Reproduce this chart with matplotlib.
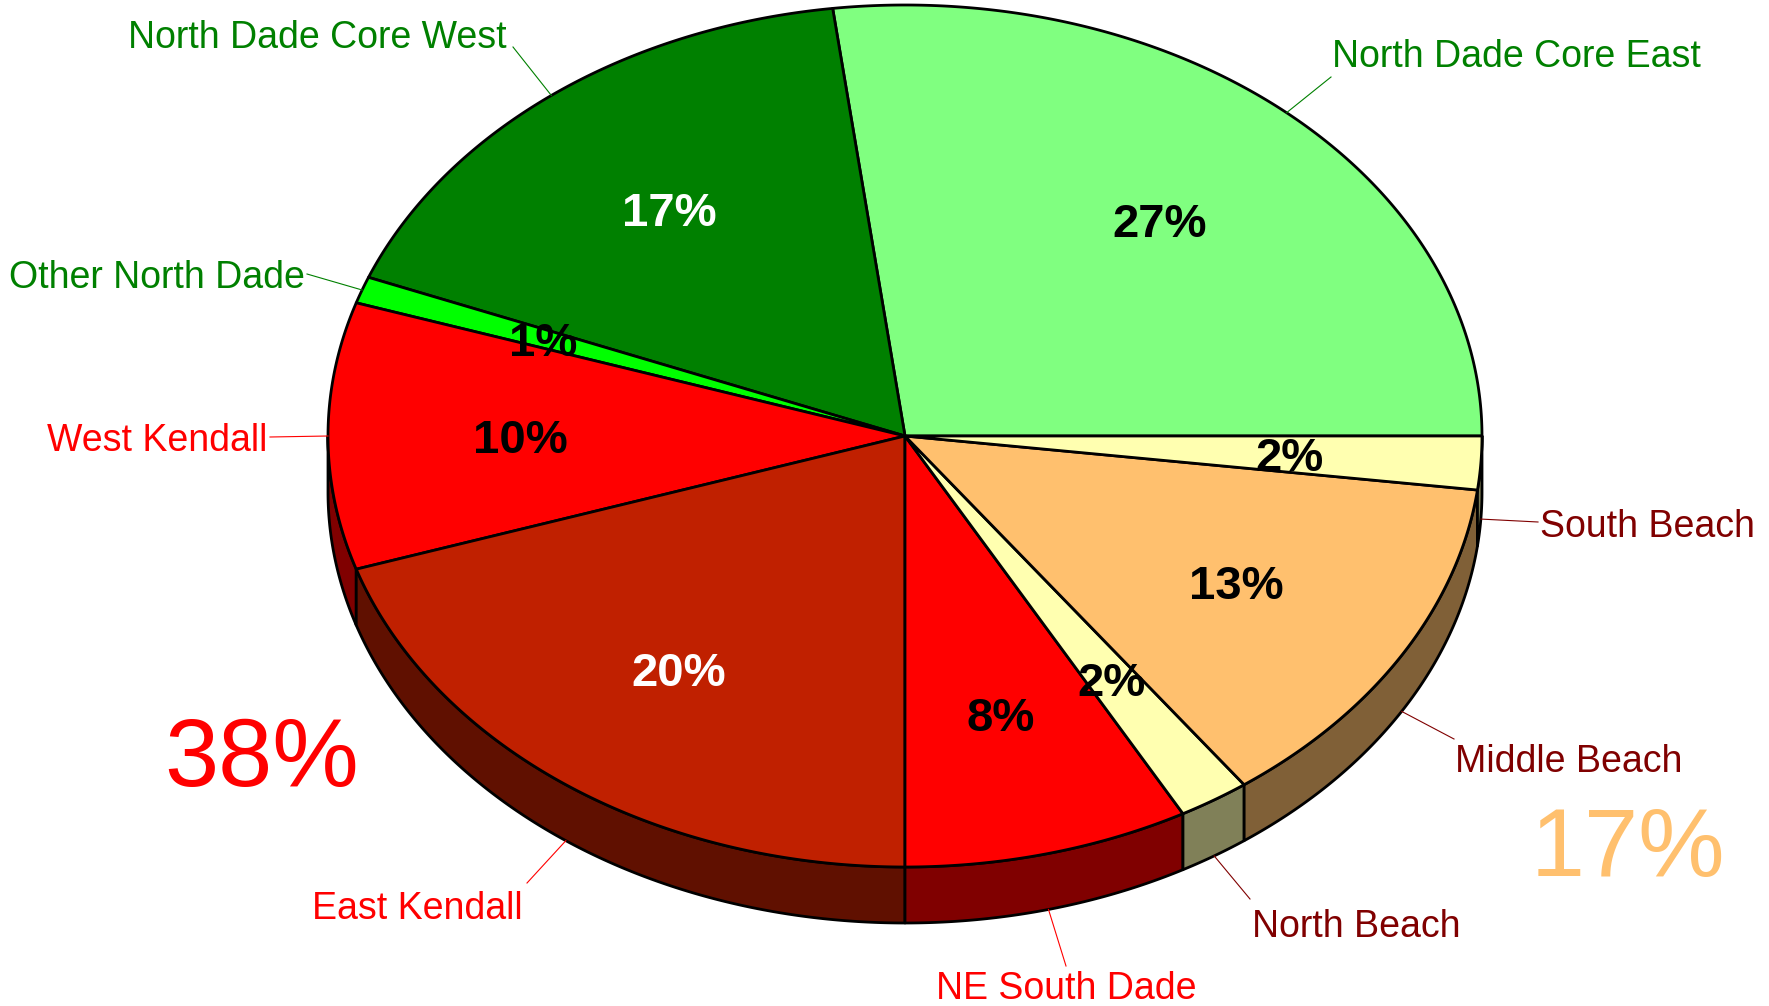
import numpy as np
import matplotlib
matplotlib.use("Agg")
import matplotlib.pyplot as plt
from matplotlib.patches import Polygon
from matplotlib.colors import to_rgb

# ---------------- data ----------------
regions = ["North Dade Core East", "North Dade Core West", "Other North Dade",
           "West Kendall", "East Kendall", "NE South Dade",
           "North Beach", "Middle Beach", "South Beach"]
shares = [27, 17, 1, 10, 20, 8, 2, 13, 2]
groups = ["North Dade", "North Dade", "North Dade",
          "South Dade", "South Dade", "South Dade",
          "Beach", "Beach", "Beach"]

# ---------------- styles ----------------
top_colors = ["#80FF80", "#008000", "#00FF00", "#FF0000", "#C02000",
              "#FF0000", "#FFFFB0", "#FFC06E", "#FFFFB0"]
pct_colors = ["black", "white", "black", "black", "white",
              "black", "black", "black", "black"]
label_colors = ["#008000", "#008000", "#008000", "#FF0000", "#FF0000",
                "#FF0000", "#800000", "#800000", "#800000"]
group_total_style = {"South Dade": ("#FF0000", (262, 761)),
                     "Beach": ("#FFC06E", (1628, 851))}

# label layout: text anchor (x, y, ha) and leader start (x, y) in pixels
label_layout = {
    "North Dade Core East": ((1332, 57, "left"), (1331, 77)),
    "North Dade Core West": ((507, 38, "right"), (513, 47)),
    "Other North Dade": ((305, 278, "right"), (307, 274)),
    "West Kendall": ((267, 441, "right"), (270, 437)),
    "East Kendall": ((523, 909, "right"), (527, 883)),
    "NE South Dade": ((1066, 989, "center"), (1066, 966)),
    "North Beach": ((1252, 927, "left"), (1250, 899)),
    "Middle Beach": ((1455, 762, "left"), (1454, 739)),
    "South Beach": ((1540, 527, "left"), (1538, 522)),
}

W, H = 1769, 1006
CX, CY, RX, RY, DEPTH = 905, 436, 577, 431, 56
FONT = "Liberation Sans"
PCT_DY = 5

fig = plt.figure(figsize=(W / 100, H / 100), dpi=100)
ax = fig.add_axes([0, 0, 1, 1])
ax.set_xlim(0, W)
ax.set_ylim(H, 0)
ax.axis("off")


def arc(a0, a1, dy=0.0):
    n = max(4, int(abs(a1 - a0) * 3))
    t = np.radians(np.linspace(a0, a1, n))
    return np.column_stack([CX + RX * np.cos(t), CY - RY * np.sin(t) + dy])


total = float(sum(shares))
angles = np.concatenate([[0.0], np.cumsum(shares) / total * 360.0])

# sides (front half only)
for i, c in enumerate(top_colors):
    a0, a1 = angles[i], angles[i + 1]
    s0, s1 = max(a0, 180.0), min(a1, 360.0)
    if s1 > s0:
        side_col = tuple(0.5 * v for v in to_rgb(c))
        pts = np.vstack([arc(s0, s1), arc(s0, s1, DEPTH)[::-1]])
        ax.add_patch(Polygon(pts, closed=True, facecolor=side_col,
                             edgecolor="black", lw=2.0, joinstyle="round",
                             zorder=2))

# top faces
for i, c in enumerate(top_colors):
    a0, a1 = angles[i], angles[i + 1]
    pts = np.vstack([[CX, CY], arc(a0, a1)])
    ax.add_patch(Polygon(pts, closed=True, facecolor=c, edgecolor="black",
                         lw=2.0, joinstyle="round", zorder=3))

# percentage labels inside
for i, s in enumerate(shares):
    mid = np.radians((angles[i] + angles[i + 1]) / 2)
    x = CX + 0.667 * RX * np.cos(mid)
    y = CY - 0.667 * RY * np.sin(mid) + PCT_DY
    ax.text(x, y, f"{s}%", ha="center", va="center", fontsize=34,
            fontweight="bold", color=pct_colors[i], family=FONT, zorder=5)

# outside labels with leader lines
for i, name in enumerate(regions):
    (tx, ty, ha), (lx, ly) = label_layout[name]
    mid = (angles[i] + angles[i + 1]) / 2
    r = np.radians(mid)
    px = CX + RX * np.cos(r)
    py = CY - RY * np.sin(r) + (DEPTH if np.sin(r) < -0.01 else 0)
    ax.plot([lx, px], [ly, py], color=label_colors[i], lw=0.8, zorder=4)
    ax.text(tx, ty, name, ha=ha, va="center", fontsize=27,
            color=label_colors[i], family=FONT, zorder=5)

# group totals
for g, (col, (gx, gy)) in group_total_style.items():
    tot = sum(s for s, gg in zip(shares, groups) if gg == g)
    ax.text(gx, gy, f"{tot}%", ha="center", va="center", fontsize=70,
            color=col, family=FONT, zorder=5)

fig.savefig("out.png", dpi=100, facecolor="white")
